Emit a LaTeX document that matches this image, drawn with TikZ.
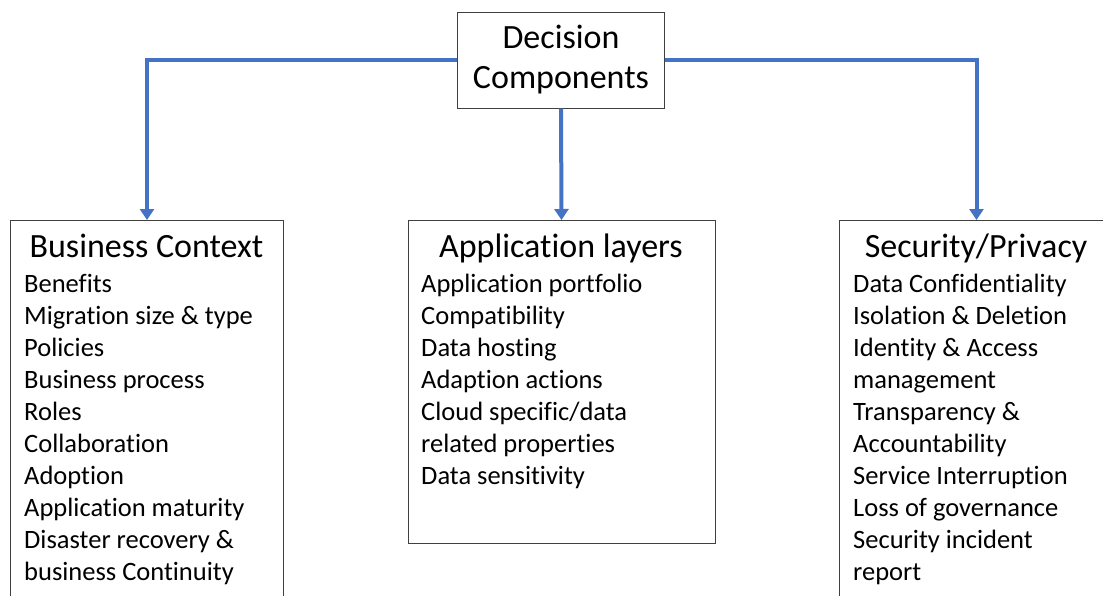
\documentclass[tikz,border=0pt]{standalone}
\usepackage{fontspec}
\setmainfont{Carlito}[Ligatures=NoCommon]
\usetikzlibrary{arrows.meta,positioning}
\definecolor{linkblue}{RGB}{68,114,196}
\definecolor{boxgray}{RGB}{64,64,64}
\tikzstyle{topbox}=[draw=boxgray,line width=1pt,minimum width=207pt,minimum height=96pt,inner sep=0pt,align=center,font=\fontsize{34}{40}\selectfont]
\tikzstyle{groupbox}=[draw=boxgray,line width=1pt,anchor=north west,inner sep=0pt]
\tikzstyle{heading}=[anchor=base,inner sep=0pt,font=\fontsize{34}{40}\selectfont]
\tikzstyle{item}=[anchor=base west,inner sep=0pt,font=\fontsize{26.5}{32}\selectfont]
\tikzstyle{link}=[draw=linkblue,line width=4pt,-{Triangle[width=14pt,length=11pt]}]

\begin{document}
\begin{tikzpicture}[x=1pt,y=-1pt]
    \useasboundingbox (0,0) rectangle (1103,595);
    \clip (0,0) rectangle (1103,595);
    % First we draw the boxes
    \node[topbox] (dc) at (561,60) {Decision\\Components};
    \node[groupbox,minimum width=273pt,minimum height=420pt] (ctx) at (10,220) {};
    \node[groupbox,minimum width=307pt,minimum height=323pt] (app) at (407.5,220) {};
    \node[groupbox,minimum width=274pt,minimum height=420pt] (sec) at (839,220) {};

    % Headings of the three groups
    \foreach \pos/\name/\label in {{(146.5,257)/hctx/Business Context}, {(561,257)/happ/Application layers}, {(976,257)/hsec/{Security/Privacy}}}
        \node[heading] (\name) at \pos {\label};

    % Then the items of each group
    \foreach \pos/\name/\label in {{(24,292)/ctxa/Benefits}, {(24,324)/ctxb/Migration size \& type}, {(24,356)/ctxc/Policies},
    {(24,388)/ctxd/Business process}, {(24,420)/ctxe/Roles}, {(24,452)/ctxf/Collaboration}, {(24,484)/ctxg/Adoption},
    {(24,516)/ctxh/Application maturity}, {(24,548)/ctxi/Disaster recovery \&}, {(24,580)/ctxj/business Continuity}}
        \node[item] (\name) at \pos {\label};

    \foreach \pos/\name/\label in {{(421,292)/appa/Application portfolio}, {(421,324)/appb/Compatibility}, {(421,356)/appc/Data hosting},
    {(421,388)/appd/Adaption actions}, {(421,420)/appe/{Cloud specific/data}}, {(421,452)/appf/related properties},
    {(421,484)/appg/Data sensitivity}}
        \node[item] (\name) at \pos {\label};

    \foreach \pos/\name/\label in {{(853,292)/seca/Data Confidentiality}, {(853,324)/secb/Isolation \& Deletion}, {(853,356)/secc/Identity \& Access},
    {(853,388)/secd/management}, {(853,420)/sece/Transparency \&}, {(853,452)/secf/Accountability}, {(853,484)/secg/Service Interruption},
    {(853,516)/sech/Loss of governance}, {(853,548)/seci/Security incident}, {(853,580)/secj/report}}
        \node[item] (\name) at \pos {\label};

    % Connect the top box with the groups
    \draw[link] (dc.west) -| (ctx.north);
    \draw[link] (dc.south) -- (app.north);
    \draw[link] (dc.east) -| (sec.north);
\end{tikzpicture}
\end{document}
